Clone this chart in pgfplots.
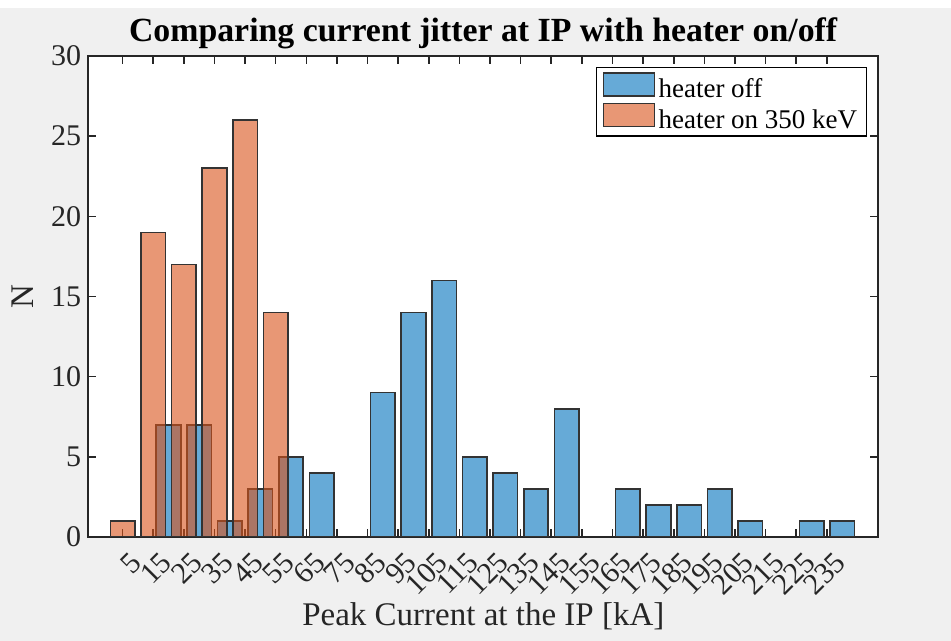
\documentclass[border=0pt]{standalone}
\usepackage{fontspec}
\setmainfont{Liberation Serif}
\usepackage{pgfplots}
\pgfplotsset{compat=1.18}
\definecolor{mblue}{rgb}{0,0.447,0.741}
\definecolor{morange}{rgb}{0.85,0.325,0.098}
\definecolor{figgray}{RGB}{240,240,240}
\definecolor{axgray}{rgb}{0.15,0.15,0.15}
\begin{document}
\begin{tikzpicture}
\fill[figgray] (-44.15pt,-52pt) rectangle (431.35pt,268.5pt);
\fill[white] (-44.15pt,264.5pt) rectangle (431.35pt,268.5pt);
\begin{axis}[
  at={(0,0)}, anchor=south west,
  scale only axis, width=395pt, height=240.5pt,
  xmin=-6.2, xmax=251.8, ymin=0, ymax=30,
  xtick={5,15,...,235}, ytick={0,5,...,30},
  tick align=inside, major tick length=4pt,
  xtick pos=both, ytick pos=both,
  axis line style={axgray, line width=1pt},
  tick style={axgray, line width=0.8pt},
  axis background/.style={fill=white},
  /pgf/number format/assume math mode=true,
  tick label style={font=\fontsize{15}{18}\selectfont, text=axgray},
  xticklabel style={rotate=45, anchor=north east, yshift=-3.5pt, xshift=1pt},
  every axis title shift=0pt,
  title={\textbf{Comparing current jitter at IP with heater on/off}},
  title style={font=\fontsize{16.9}{20}\selectfont, at={(axis description cs:0.5,1)}, anchor=base, yshift=7.15pt},
  xlabel={Peak Current at the IP [kA]},
  xlabel style={font=\fontsize{16.5}{20}\selectfont, text=axgray, at={(axis description cs:0.5,0)}, anchor=base, yshift=-44.5pt},
  ylabel={N},
  ylabel style={font=\fontsize{16.5}{20}\selectfont, text=axgray, at={(axis description cs:-0.0833,0.5)}, anchor=center},
  legend cell align=left,
  legend style={at={(axis description cs:0.9857,0.977)}, anchor=north east, draw=black, line width=0.6pt, fill=white,
    inner xsep=3pt, inner ysep=2.2pt, row sep=1pt, font=\fontsize{13.5}{16}\selectfont,
    nodes={inner xsep=1.6pt, inner ysep=0pt}},
  legend image code/.code={\draw[#1] (0pt,-3pt) rectangle (25.5pt,8.5pt);},
]
\addplot[ybar, bar width=8, bar shift=0pt, fill=mblue, fill opacity=0.6, draw=black!80, line width=0.8pt]
coordinates {(20,7) (30,7) (40,1) (50,3) (60,5) (70,4) (90,9) (100,14) (110,16) (120,5) (130,4) (140,3) (150,8) (170,3) (180,2) (190,2) (200,3) (210,1) (230,1) (240,1)};
\addplot[ybar, bar width=8, bar shift=0pt, fill=morange, fill opacity=0.6, draw=black!80, line width=0.8pt]
coordinates {(5,1) (15,19) (25,17) (35,23) (45,26) (55,14)};
\legend{heater off, heater on 350 keV}
\end{axis}
\pgfresetboundingbox
\path (-44.15pt,-52pt) rectangle (431.35pt,268.5pt);
\end{tikzpicture}
\end{document}
